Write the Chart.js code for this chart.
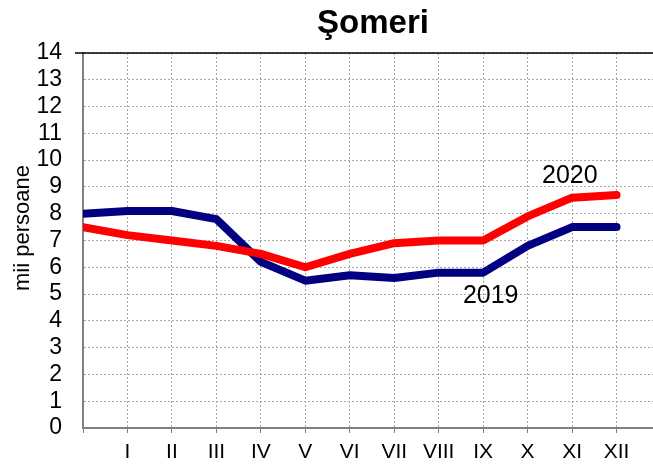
<!DOCTYPE html>
<html>
<head>
<meta charset="utf-8">
<script src="https://cdn.jsdelivr.net/npm/chart.js@4/dist/chart.umd.min.js"></script>
<style>
    html, body { margin: 0; padding: 0; background: #fff; }
    #chart-container { width: 653px; height: 466px; }
</style>
</head>
<body>
<div id="chart-container">
    <canvas id="somerichart" width="653" height="466"></canvas>
</div>
<script>
// first slot is december of the previous year, it has no label
var monthLabels = ['', 'I', 'II', 'III', 'IV', 'V', 'VI', 'VII', 'VIII', 'IX', 'X', 'XI', 'XII'];
var series2019 = [8.0, 8.1, 8.1, 7.8, 6.2, 5.5, 5.7, 5.6, 5.8, 5.8, 6.8, 7.5, 7.5];
var series2020 = [7.5, 7.2, 7.0, 6.8, 6.5, 6.0, 6.5, 6.9, 7.0, 7.0, 7.9, 8.6, 8.7];
var seriesNames = ['2019', '2020'];
var yMin = 0, yMax = 14;
var chartTitle = 'Şomeri';
var yTitle = 'mii persoane';

var FONT = "Arial, 'Liberation Sans', sans-serif";

function toPoints(values) {
    return values.map(function(v, i) { return { x: i, y: v }; });
}

// where the year names sit, in data units
var noteSpots = [
    { text: seriesNames[0], x: 9.17, y: 4.94 },
    { text: seriesNames[1], x: 10.95, y: 9.39 }
];

var extrasPlugin = {
    id: 'extras',
    afterDraw: function(chart) {
        var ctx = chart.ctx;
        var area = chart.chartArea;
        var xs = chart.scales.x, ys = chart.scales.y;
        ctx.save();
        // black top frame line
        ctx.strokeStyle = '#000';
        ctx.lineWidth = 1.5;
        ctx.beginPath();
        ctx.moveTo(area.left - 8, area.top);
        ctx.lineTo(area.right, area.top);
        ctx.stroke();

        ctx.fillStyle = '#000';
        ctx.textAlign = 'center';
        ctx.textBaseline = 'middle';

        // title, sits a bit right of the canvas middle like the original
        ctx.font = 'bold 33px ' + FONT;
        ctx.fillText(chartTitle, 373, 24);

        // year names next to the lines
        ctx.font = '25px ' + FONT;
        noteSpots.forEach(function(n) {
            ctx.fillText(n.text, xs.getPixelForValue(n.x), ys.getPixelForValue(n.y));
        });

        // y axis title
        ctx.font = '22px ' + FONT;
        ctx.translate(23, 228);
        ctx.rotate(-Math.PI / 2);
        ctx.fillText(yTitle, 0, 0);
        ctx.restore();
    }
};

var ctx = document.getElementById('somerichart');
var somChart = new Chart(ctx, {
    type: 'line',
    data: {
        datasets: [{
            label: seriesNames[0],
            data: toPoints(series2019),
            borderColor: '#000080',
            backgroundColor: '#000080',
            borderWidth: 8,
            pointRadius: 0,
            borderCapStyle: 'round',
            borderJoinStyle: 'round',
            order: 2,
            clip: { left: 0, top: 10, right: 10, bottom: 10 }
        }, {
            label: seriesNames[1],
            data: toPoints(series2020),
            borderColor: '#ff0000',
            backgroundColor: '#ff0000',
            borderWidth: 8,
            pointRadius: 0,
            borderCapStyle: 'round',
            borderJoinStyle: 'round',
            order: 1,
            clip: { left: 0, top: 10, right: 10, bottom: 10 }
        }]
    },
    options: {
        responsive: false,
        animation: false,
        layout: { padding: { top: 53, left: 0, right: 0, bottom: 0 } },
        plugins: {
            legend: { display: false },
            tooltip: { enabled: false },
            title: { display: false }
        },
        scales: {
            x: {
                type: 'linear',
                min: 0,
                max: 12.82,
                afterFit: function(scale) {
                    scale.height = 38;
                    scale.paddingLeft = 0;
                    scale.paddingRight = 0;
                },
                afterBuildTicks: function(scale) {
                    scale.ticks = monthLabels.map(function(l, i) { return { value: i }; });
                },
                ticks: {
                    autoSkip: false,
                    maxRotation: 0,
                    padding: 7,
                    color: '#000',
                    font: { family: FONT, size: 21 },
                    callback: function(value, index) {
                        return monthLabels[index];
                    }
                },
                grid: {
                    color: '#a6a6a6',
                    lineWidth: 1,
                    tickLength: 5,
                    tickColor: '#808080',
                    tickBorderDash: []
                },
                border: { display: true, color: '#808080', width: 2, dash: [2, 2] }
            },
            y: {
                min: yMin,
                max: yMax,
                afterFit: function(scale) { scale.width = 83; },
                ticks: {
                    stepSize: 1,
                    autoSkip: false,
                    padding: 21,
                    color: '#000',
                    font: { family: FONT, size: 23 }
                },
                grid: {
                    color: '#a6a6a6',
                    lineWidth: 1,
                    drawTicks: false
                },
                border: { display: true, color: '#808080', width: 2, dash: [2, 2] }
            }
        }
    },
    plugins: [extrasPlugin]
});
</script>
</body>
</html>
